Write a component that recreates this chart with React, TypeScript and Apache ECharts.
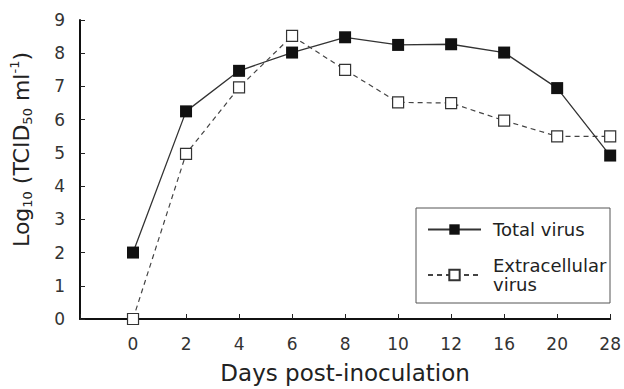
import React, { useEffect, useRef } from "react";
import * as echarts from "echarts";

const days = ["0", "2", "4", "6", "8", "10", "12", "16", "20", "28"];
const totalVirus = [2.0, 6.25, 7.47, 8.02, 8.48, 8.25, 8.27, 8.02, 6.95, 4.92];
const extracellularVirus = [0, 4.97, 6.97, 8.52, 7.5, 6.52, 6.5, 5.97, 5.5, 5.5];
const yTicks = { min: 0, max: 9, interval: 1 };

const FONT = "DejaVu Sans";

export default function App() {
  const ref = useRef<HTMLDivElement>(null);
  useEffect(() => {
    if (!ref.current) return;
    const chart = echarts.init(ref.current, null, { renderer: "svg" });
    chart.setOption({
      animation: false,
      backgroundColor: "#fff",
      grid: { left: 78, right: 13, top: 20, bottom: 69 },
      xAxis: {
        type: "value",
        min: -1,
        max: days.length - 1,
        interval: 1,
        name: "Days post-inoculation",
        nameLocation: "middle",
        nameGap: 42,
        nameTextStyle: { fontFamily: FONT, fontSize: 23, color: "#222" },
        axisLine: { onZero: false, lineStyle: { color: "#111", width: 2 } },
        axisTick: { inside: true, length: 5, lineStyle: { color: "#222", width: 1 } },
        axisLabel: {
          margin: 16,
          fontFamily: FONT,
          fontSize: 17,
          color: "#333",
          formatter: (v: number) => (v >= 0 && Number.isInteger(v) ? days[v] : ""),
        },
        splitLine: { show: false },
      },
      yAxis: {
        type: "value",
        min: yTicks.min,
        max: yTicks.max,
        interval: yTicks.interval,
        name: "{a|Log}{sub|10}{a| (TCID}{sub|50}{a| ml}{sup|-1}{a|)}",
        nameLocation: "middle",
        nameGap: 46,
        nameTextStyle: {
          padding: [0, 0, 0, 40],
          rich: {
            a: { fontFamily: FONT, fontSize: 22, color: "#222", lineHeight: 26 },
            sub: { fontFamily: FONT, fontSize: 13, color: "#222", lineHeight: 12, verticalAlign: "bottom" },
            sup: { fontFamily: FONT, fontSize: 13, color: "#222", lineHeight: 13, verticalAlign: "top" },
          },
        },
        axisLine: { show: true, onZero: false, lineStyle: { color: "#111", width: 2 } },
        axisTick: { show: true, inside: true, length: 5, lineStyle: { color: "#222", width: 1 } },
        axisLabel: { margin: 15, fontFamily: FONT, fontSize: 17, color: "#333" },
        splitLine: { show: false },
      },
      legend: {
        orient: "vertical",
        left: 427,
        top: 220,
        padding: 0,
        itemWidth: 53,
        itemHeight: 13,
        itemGap: 17,
        formatter: (name: string) => (name === "Extracellular virus" ? "Extracellular\nvirus" : name),
        textStyle: { fontFamily: FONT, fontSize: 18, color: "#222", lineHeight: 19, padding: [0, 0, 0, 7] },
        data: ["Total virus", "Extracellular virus"],
      },
      graphic: [
        {
          type: "rect",
          shape: { x: 416, y: 208, width: 194, height: 95 },
          style: { fill: "none", stroke: "#555", lineWidth: 1 },
          silent: true,
        },
      ],
      series: [
        {
          name: "Total virus",
          type: "line",
          data: totalVirus.map((v, i) => [i, v]),
          symbol: "rect",
          symbolSize: 12,
          itemStyle: { color: "#111" },
          lineStyle: { color: "#333", width: 1.3 },
          z: 3,
        },
        {
          name: "Extracellular virus",
          type: "line",
          data: extracellularVirus.map((v, i) => [i, v]),
          symbol: "rect",
          symbolSize: 11,
          itemStyle: { color: "#fff", borderColor: "#333", borderWidth: 1.2 },
          lineStyle: { color: "#444", width: 1.2, type: [5, 4] },
          z: 2,
        },
      ],
    });
    return () => chart.dispose();
  }, []);
  return (
    <div
      ref={ref}
      style={{ position: "fixed", left: 0, top: 0, width: 624, height: 389 }}
    />
  );
}
